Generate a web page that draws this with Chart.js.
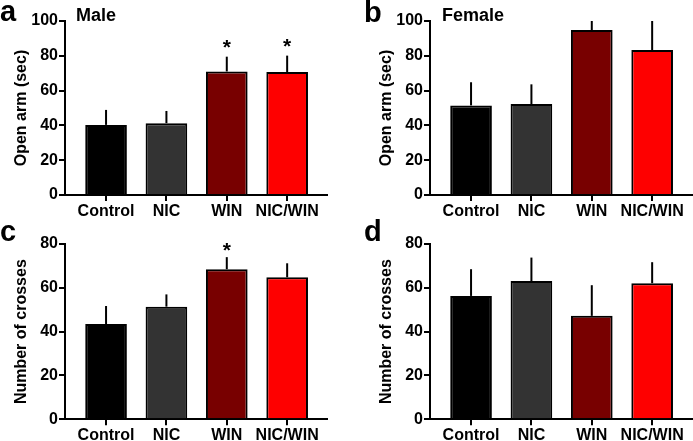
<!DOCTYPE html>
<html>

<head>
    <title>Open arm time and crosses</title>
    <style>
        body {
            margin: 0;
            background: #fff;
            font-family: "Liberation Sans", Arial, sans-serif;
        }

        #wrap {
            position: relative;
            width: 693px;
            height: 441px;
        }

        canvas {
            position: absolute;
        }

        .lab {
            position: absolute;
            font-weight: bold;
            line-height: 1;
            color: #000;
            white-space: nowrap;
        }
    </style>
</head>

<body>
    <div id="wrap">
        <canvas id="panelA" width="347" height="220" style="left:0;top:0"></canvas>
        <canvas id="panelB" width="328" height="220" style="left:365px;top:0"></canvas>
        <canvas id="panelC" width="347" height="221" style="left:0;top:220px"></canvas>
        <canvas id="panelD" width="328" height="221" style="left:365px;top:220px"></canvas>
        <div class="lab" style="left:0;top:-3px;font-size:29px">a</div>
        <div class="lab" style="left:76px;top:6px;font-size:18px">Male</div>
        <div class="lab" style="left:364px;top:-2px;font-size:29px">b</div>
        <div class="lab" style="left:442px;top:6px;font-size:18px">Female</div>
        <div class="lab" style="left:0;top:217px;font-size:29px">c</div>
        <div class="lab" style="left:364px;top:217px;font-size:29px">d</div>
    </div>
    <script src="https://cdn.jsdelivr.net/npm/chart.js"></script>
    <script type="text/javascript">
        var groups = ['Control', 'NIC', 'WIN', 'NIC/WIN'];
        var barColors = ['#000000', '#333333', '#780000', '#fe0000'];

        // open arm time (sec), mean and SEM
        var maleOpenArm = [40.3, 41.3, 71.0, 70.7];
        var maleOpenArmErr = [8.6, 7.0, 8.5, 9.4];
        var maleOpenArmStars = [false, false, true, true];
        var femaleOpenArm = [51.5, 52.3, 94.8, 83.3];
        var femaleOpenArmErr = [13.3, 11.3, 5.2, 16.7];
        var femaleOpenArmStars = [false, false, false, false];

        // number of crosses, mean and SEM
        var maleCrosses = [43.5, 51.4, 68.5, 64.8];
        var maleCrossesErr = [8.2, 5.6, 5.5, 6.4];
        var maleCrossesStars = [false, false, true, false];
        var femaleCrosses = [56.3, 63.1, 47.2, 62.1];
        var femaleCrossesErr = [12.2, 10.7, 14.0, 9.6];
        var femaleCrossesStars = [false, false, false, false];

        var fontFamily = '"Liberation Sans", Arial, sans-serif';

        var errorBars = {
            id: 'errorBars',
            beforeDatasetsDraw: function(chart, args, opts) {
                var ctx = chart.ctx;
                var ys = chart.scales.y;
                var meta = chart.getDatasetMeta(0);
                ctx.save();
                ctx.strokeStyle = '#000';
                ctx.lineWidth = 2;
                meta.data.forEach(function(bar, i) {
                    var v = chart.data.datasets[0].data[i].y;
                    ctx.beginPath();
                    ctx.moveTo(bar.x, ys.getPixelForValue(v));
                    ctx.lineTo(bar.x, ys.getPixelForValue(v + opts.errors[i]));
                    ctx.stroke();
                });
                ctx.restore();
            },
            afterDatasetsDraw: function(chart, args, opts) {
                var ctx = chart.ctx;
                var ys = chart.scales.y;
                var meta = chart.getDatasetMeta(0);
                ctx.save();
                ctx.fillStyle = '#000';
                ctx.font = 'bold 21px ' + fontFamily;
                ctx.textAlign = 'center';
                ctx.textBaseline = 'alphabetic';
                meta.data.forEach(function(bar, i) {
                    if (!opts.stars[i]) return;
                    var v = chart.data.datasets[0].data[i].y;
                    var top = ys.getPixelForValue(v + opts.errors[i]);
                    ctx.fillText('*', bar.x, top - opts.starGap);
                });
                ctx.restore();
            }
        };

        function makePanel(id, values, errors, stars, yMax, yTitle, p) {
            var tickFont = { family: fontFamily, size: 16, weight: 'bold' };
            return new Chart(document.getElementById(id), {
                type: 'bar',
                data: {
                    datasets: [{
                        data: values.map(function(v, i) { return { x: i + 1, y: v }; }),
                        backgroundColor: barColors,
                        borderColor: '#000',
                        borderWidth: 2,
                        categoryPercentage: 1,
                        barPercentage: 0.69
                    }]
                },
                options: {
                    responsive: false,
                    animation: false,
                    layout: {
                        padding: { top: p.top, right: p.right, left: 0, bottom: 0 }
                    },
                    plugins: {
                        legend: { display: false },
                        tooltip: { enabled: false },
                        errorBars: { errors: errors, stars: stars, starGap: p.starGap }
                    },
                    scales: {
                        x: {
                            type: 'linear',
                            min: 0.32,
                            max: 4.66,
                            offset: false,
                            grid: {
                                offset: false,
                                drawOnChartArea: false,
                                drawTicks: true,
                                tickLength: 6,
                                color: '#000',
                                lineWidth: 2
                            },
                            border: { display: true, color: '#000', width: 2 },
                            ticks: {
                                autoSkip: false,
                                maxRotation: 0,
                                padding: 1,
                                color: '#000',
                                font: tickFont,
                                callback: function(v) { return groups[v - 1]; }
                            },
                            afterBuildTicks: function(s) {
                                s.ticks = groups.map(function(g, i) { return { value: i + 1 }; });
                            },
                            afterFit: function(s) { s.height = p.xHeight; }
                        },
                        y: {
                            min: 0,
                            max: yMax,
                            grid: {
                                drawOnChartArea: false,
                                drawTicks: true,
                                tickLength: 6,
                                color: '#000',
                                lineWidth: 2
                            },
                            border: { display: true, color: '#000', width: 2 },
                            ticks: {
                                stepSize: 20,
                                padding: 1,
                                color: '#000',
                                font: tickFont
                            },
                            title: {
                                display: true,
                                text: yTitle,
                                color: '#000',
                                font: tickFont,
                                padding: { top: 12, bottom: 0 }
                            },
                            afterFit: function(s) { s.width = 65; }
                        }
                    }
                },
                plugins: [errorBars]
            });
        }

        window.onload = function() {
            makePanel('panelA', maleOpenArm, maleOpenArmErr, maleOpenArmStars, 100, 'Open arm (sec)',
                { top: 21, right: 20, xHeight: 25, starGap: 3 });
            makePanel('panelB', femaleOpenArm, femaleOpenArmErr, femaleOpenArmStars, 100, 'Open arm (sec)',
                { top: 21, right: 1, xHeight: 25, starGap: 3 });
            makePanel('panelC', maleCrosses, maleCrossesErr, maleCrossesStars, 80, 'Number of crosses',
                { top: 24, right: 20, xHeight: 21.7, starGap: 0 });
            makePanel('panelD', femaleCrosses, femaleCrossesErr, femaleCrossesStars, 80, 'Number of crosses',
                { top: 24, right: 1, xHeight: 21.7, starGap: 0 });
        };
    </script>
</body>

</html>
